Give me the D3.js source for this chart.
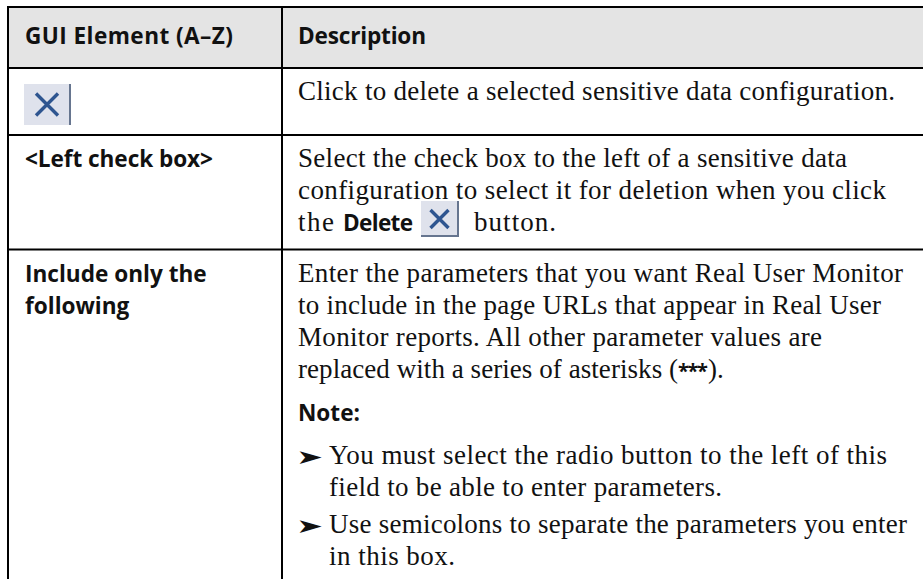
<!DOCTYPE html>
<html>
<head>
<meta charset="utf-8">
<script src="https://cdn.jsdelivr.net/npm/d3@7"></script>
<style>
  html, body { margin: 0; padding: 0; background: #fff; }
  svg { display: block; }
  .head, .label, .strong { font-family: "Open Sans", sans-serif; font-weight: 700; }
  .body { font-family: "Liberation Serif", serif; }
</style>
</head>
<body>
<div id="chart-area"></div>
<script>
let headers = ["GUI Element (A–Z)", "Description"];

let row1Text = ["Click to delete a selected sensitive data configuration."];
let row2Label = ["<Left check box>"];
let row2Text = ["Select the check box to the left of a sensitive data",
                "configuration to select it for deletion when you click"];
let row3Label = ["Include only the", "following"];
let row3Text = ["Enter the parameters that you want Real User Monitor",
                "to include in the page URLs that appear in Real User",
                "Monitor reports. All other parameter values are"];
let row3Last = ["replaced with a series of asterisks (", "***", ")."];
let noteLabel = "Note:";
let bullets = [["You must select the radio button to the left of this",
                "field to be able to enter parameters."],
               ["Use semicolons to separate the parameters you enter",
                "in this box."]];

const width = 923, height = 579;
const svg = d3.select("#chart-area").append("svg").attr("width", width).attr("height", height);

// layout
const colX = d3.scaleOrdinal().domain(["left", "divider", "label", "desc", "bullet"]).range([8, 282, 25, 298, 329]);
const ruleY = d3.scaleOrdinal().domain(["top", "head", "row1", "row2"]).range([7, 68, 135, 249.5]);
const lineY = d3.scaleLinear().domain([0, 1]).range([0, 32]);
const bodySize = 27, headSize = 22.6, nudge = 0.7;

let defs = svg.append("defs");
defs.append("filter").attr("id", "soft").append("feGaussianBlur").attr("stdDeviation", 0.6);

svg.append("rect").attr("x", colX("left")).attr("y", ruleY("top")).attr("width", width).attr("height", ruleY("head") - ruleY("top")).attr("fill", "#e4e4e4");

// horizontal rules
svg.selectAll(".rule").data(ruleY.domain()).join("line")
  .attr("x1", colX("left")).attr("x2", width)
  .attr("y1", d => ruleY(d)).attr("y2", d => ruleY(d))
  .attr("stroke", "#000").attr("stroke-width", 2);

// vertical rules
svg.selectAll(".vrule").data(["left", "divider"]).join("line")
  .attr("x1", d => colX(d)).attr("x2", d => colX(d))
  .attr("y1", ruleY("top") - 1).attr("y2", height)
  .attr("stroke", "#000").attr("stroke-width", 2);

// ends = right edge of each line in the page, text gets stretched a little to reach it
function lines(list, cls, x, y0, size, ends) {
  list.forEach((t, i) => {
    let el = svg.append("text").attr("class", cls).attr("x", x).attr("y", y0 + nudge + lineY(i))
      .attr("font-size", size).attr("fill", "#111").text(t);
    if (ends) el.attr("textLength", ends[i] - x).attr("lengthAdjust", "spacing");
  });
}

function deleteIcon(x, y, w, h, r, boxed) {
  let g = svg.append("g").attr("transform", `translate(${x},${y})`);
  g.append("rect").attr("width", w).attr("height", h).attr("fill", "#dfe2ec");
  g.append("rect").attr("x", w - 2).attr("width", 2).attr("height", h).attr("fill", "#66758f");
  if (boxed) g.append("rect").attr("y", h - 2).attr("width", w).attr("height", 2).attr("fill", "#66758f");
  let mx = (w - 1) / 2, my = h / 2;
  g.append("path").attr("d", `M${mx - r},${my - r}L${mx + r},${my + r}M${mx + r},${my - r}L${mx - r},${my + r}`)
    .attr("stroke", "#2f5590").attr("stroke-width", 3.4).attr("fill", "none").attr("filter", "url(#soft)");
}

// header
lines([headers[0]], "head", colX("label"), 43, headSize, [233]);
lines([headers[1]], "head", colX("desc"), 43, headSize, [426]);

// row 1
deleteIcon(24, 84, 47, 41, 11, false);
lines(row1Text, "body", colX("desc"), 99, bodySize, [895]);

// row 2
lines(row2Label, "label", colX("label"), 166, headSize, [213]);
lines(row2Text, "body", colX("desc"), 166, bodySize, [847, 886]);
lines(["the"], "body", colX("desc"), 230, bodySize, [334]);
lines(["Delete"], "strong", 343, 230, headSize, [413]);
deleteIcon(421, 201, 38, 36, 9, true);
lines(["button."], "body", 474, 230, bodySize, [556]);

// row 3
lines(row3Label, "label", colX("label"), 281, headSize);
lines(row3Text, "body", colX("desc"), 281, bodySize, [903, 881, 822]);
lines([row3Last[0]], "body", colX("desc"), 377, bodySize, [678]);
lines([row3Last[1]], "strong", 678, 377, 20, [708]);
lines([row3Last[2]], "body", 708, 377, bodySize);
lines([noteLabel], "strong", colX("desc"), 420, headSize);

let bulletY = [463, 532];
let bulletEnds = [[887, 722], [907, 455]];
bullets.forEach((b, i) => {
  svg.append("text").attr("transform", `translate(${colX("desc") - 2},${bulletY[i] + nudge}) scale(1.35,0.85)`)
    .attr("font-family", "DejaVu Sans").attr("font-size", 24).attr("fill", "#111").text("➤");
  lines(b, "body", colX("bullet"), bulletY[i], bodySize, bulletEnds[i]);
});
</script>
</body>
</html>
